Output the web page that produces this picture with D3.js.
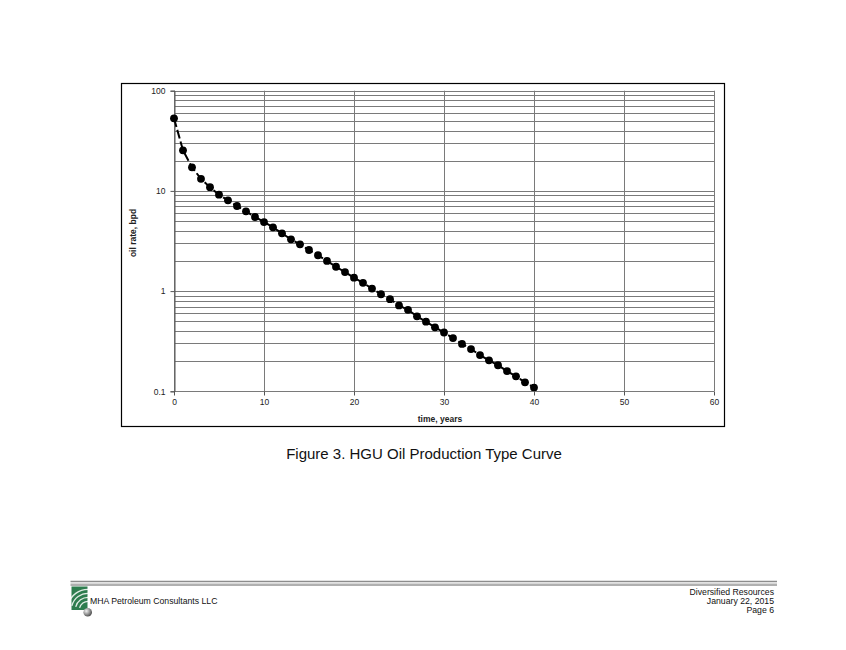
<!DOCTYPE html>
<html>
<head>
<meta charset="utf-8">
<script src="https://cdn.jsdelivr.net/npm/d3@7"></script>
<style>
  html, body { margin: 0; padding: 0; background: #fff; }
  svg { display: block; font-family: "Liberation Sans", Arial, sans-serif; }
</style>
</head>
<body>
<svg id="chart" width="846" height="650"></svg>
<script>
// ---- data ----
const years = [0,1,2,3,4,5,6,7,8,9,10,11,12,13,14,15,16,17,18,19,20,21,22,23,24,25,26,27,28,29,30,31,32,33,34,35,36,37,38,39,40];
const oilRate = [53.0,25.4,17.2,13.2,10.9,9.16,8.05,7.07,6.26,5.49,4.89,4.33,3.77,3.29,2.93,2.57,2.28,2.00,1.75,1.55,1.36,1.21,1.06,0.93,0.83,0.72,0.65,0.56,0.495,0.435,0.386,0.34,0.297,0.264,0.23,0.204,0.182,0.159,0.141,0.123,0.109];
const xTicks = [0,10,20,30,40,50,60];
const yTicks = [0.1,1,10,100];
const yTickLabels = ["0.1","1","10","100"];
const titleText = "Figure 3. HGU Oil Production Type Curve";
const xTitle = "time, years";
const yTitle = "oil rate, bpd";
const footerLeft = "MHA Petroleum Consultants LLC";
const footerRight = ["Diversified Resources", "January 22, 2015", "Page 6"];

const svg = d3.select("#chart");

// outer chart frame
svg.append("rect").attr("x", 121.5).attr("y", 83.5).attr("width", 603).attr("height", 343)
  .attr("fill", "none").attr("stroke", "#000").attr("stroke-width", 1.2);

const pLeft = 174, pRight = 714, pTop = 90.7, pBottom = 391.3;
const x = d3.scaleLinear().domain([0, 60]).range([pLeft, pRight]);
const y = d3.scaleLog().domain([0.1, 100]).range([pBottom, pTop]);

// minor/major horizontal grid lines
const hLines = [];
for (let dec = 0.1; dec < 100; dec *= 10) {
  for (let m = 1; m <= 10; m++) hLines.push(+(dec * m).toPrecision(3));
}
const gGrid = svg.append("g");
gGrid.selectAll("line.h").data(Array.from(new Set(hLines))).join("line")
  .attr("x1", pLeft).attr("x2", pRight)
  .attr("y1", d => Math.round(y(d)) + 0.5).attr("y2", d => Math.round(y(d)) + 0.5)
  .attr("stroke", "#7a7a7a").attr("stroke-width", 1);
gGrid.selectAll("line.v").data(xTicks).join("line")
  .attr("y1", pTop).attr("y2", pBottom)
  .attr("x1", d => Math.round(x(d)) + 0.5).attr("x2", d => Math.round(x(d)) + 0.5)
  .attr("stroke", "#7a7a7a").attr("stroke-width", 1);

// axes
const yAxis = d3.axisLeft(y).tickValues(yTicks).tickFormat((d, i) => yTickLabels[i]).tickSize(4).tickPadding(5);
const xAxis = d3.axisBottom(x).tickValues(xTicks).tickFormat(d3.format("d")).tickSize(4).tickPadding(3);
const gy = svg.append("g").attr("transform", `translate(${pLeft + 0.5},0)`).call(yAxis);
const gx = svg.append("g").attr("transform", `translate(0,${Math.round(pBottom) + 0.5})`).call(xAxis);
[gx, gy].forEach(g => {
  g.select(".domain").attr("stroke", "#555");
  g.selectAll(".tick line").attr("stroke", "#555");
  g.selectAll(".tick text").attr("fill", "#222").attr("font-size", "8.5px")
    .attr("font-family", "'Liberation Sans', Arial, sans-serif");
});
gx.select(".domain").remove();

// clip for data (left side open so the first marker is whole)
svg.append("clipPath").attr("id", "clip").append("rect")
  .attr("x", pLeft - 8).attr("y", pTop - 5).attr("width", pRight - pLeft + 8).attr("height", pBottom - pTop + 5);

const pts = years.map((t, i) => ({t, v: oilRate[i]}));
const line = d3.line().x(d => x(d.t)).y(d => y(d.v));
const gData = svg.append("g").attr("clip-path", "url(#clip)");
gData.append("path").datum(pts).attr("d", line)
  .attr("fill", "none").attr("stroke", "#000").attr("stroke-width", 2)
  .attr("stroke-dasharray", "9,3");
gData.selectAll("circle").data(pts).join("circle")
  .attr("cx", d => x(d.t)).attr("cy", d => y(d.v)).attr("r", 3.9)
  .attr("fill", "#000");

// axis titles
svg.append("text").attr("x", 440).attr("y", 422).attr("text-anchor", "middle")
  .attr("font-size", "8.5px").attr("font-weight", "bold").attr("fill", "#222").text(xTitle);
svg.append("text").attr("transform", "translate(136,233) rotate(-90)").attr("text-anchor", "middle")
  .attr("font-size", "8.5px").attr("font-weight", "bold").attr("fill", "#222").text(yTitle);

// figure caption
svg.append("text").attr("x", 424).attr("y", 459).attr("text-anchor", "middle")
  .attr("font-size", "15px").attr("fill", "#111").text(titleText);

// footer rules
svg.append("line").attr("x1", 70.5).attr("x2", 777).attr("y1", 581.5).attr("y2", 581.5)
  .attr("stroke", "#8c8c8c").attr("stroke-width", 1.3);
svg.append("line").attr("x1", 70.5).attr("x2", 777).attr("y1", 584.7).attr("y2", 584.7)
  .attr("stroke", "#b0b0b0").attr("stroke-width", 2.4);

// logo
const defs = svg.append("defs");
const rg = defs.append("radialGradient").attr("id", "sphere").attr("cx", "35%").attr("cy", "35%").attr("r", "65%");
rg.append("stop").attr("offset", "0%").attr("stop-color", "#f2f2f2");
rg.append("stop").attr("offset", "100%").attr("stop-color", "#555");
const logo = svg.append("g");
logo.append("rect").attr("x", 71.5).attr("y", 586.5).attr("width", 16).attr("height", 23.5).attr("fill", "#2e7d4f");
[8, 12, 16, 20].forEach(r => {
  logo.append("path")
    .attr("d", d3.arc()({innerRadius: r, outerRadius: r + 1.3, startAngle: -Math.PI / 2 + 0.25, endAngle: 0.05}))
    .attr("transform", "translate(88,610)").attr("fill", "#fff").attr("opacity", 0.85);
});
logo.append("circle").attr("cx", 87.7).attr("cy", 612.3).attr("r", 4.3).attr("fill", "url(#sphere)");

svg.append("text").attr("x", 90).attr("y", 604).attr("font-size", "8.7px").attr("fill", "#111").text(footerLeft);
svg.selectAll("text.fr").data(footerRight).join("text")
  .attr("x", 774).attr("y", (d, i) => 595 + i * 8.9).attr("text-anchor", "end")
  .attr("font-size", "8.7px").attr("fill", "#111").text(d => d);
</script>
</body>
</html>
